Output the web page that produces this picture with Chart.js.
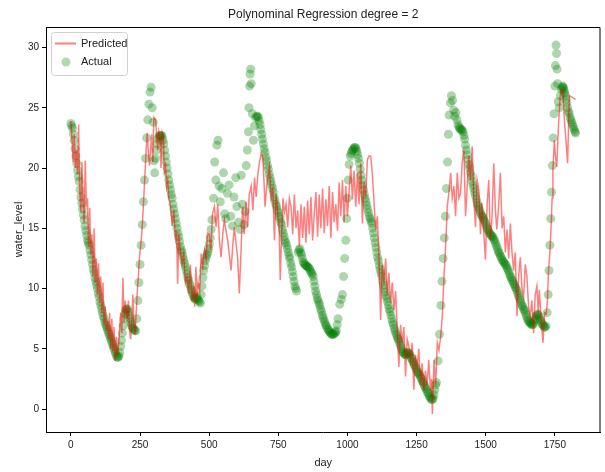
<!DOCTYPE html>
<html>
<head>
<meta charset="utf-8">
<script src="https://cdn.jsdelivr.net/npm/chart.js@4.4.1/dist/chart.umd.min.js"></script>
<style>
  html, body { margin: 0; padding: 0; background: #fff; }
  #wrap { width: 605px; height: 472px; }
</style>
</head>
<body>
<div id="wrap"><canvas id="waterChart" width="605" height="472"></canvas></div>
<script>
var chartTitle = 'Polynominal Regression degree = 2';
var xTicks = [0, 250, 500, 750, 1000, 1250, 1500, 1750];
var yTicks = [0, 5, 10, 15, 20, 25, 30];

// observed water level (green dots)
var actualDays = [0,6,12,18,24,30,36,42,48,54,60,66,72,78,84,90,96,102,108,114,120,126,132,138,144,150,156,162,168,174,180,186,192,198,204,210,216,222,228,234,238,242,246,250,254,258,262,266,270,274,278,282,286,290,294,298,300,303,306,312,318,324,330,336,342,348,354,360,366,372,378,384,390,396,402,408,414,420,426,432,438,444,450,456,462,468,474,480,486,492,498,504,510,516,520,524,528,532,536,540,546,552,556,560,566,572,578,584,590,596,600,606,612,616,620,626,630,634,638,642,644,646,648,650,652,656,660,664,668,672,678,684,690,696,702,708,714,720,726,732,738,744,750,756,762,768,774,780,786,792,798,804,810,816,822,828,834,840,846,852,858,864,870,876,882,888,894,900,906,912,918,924,930,936,942,948,954,960,966,972,978,982,986,990,994,997,1000,1003,1006,1010,1016,1022,1028,1034,1040,1046,1052,1058,1064,1070,1076,1082,1088,1094,1100,1106,1112,1118,1124,1130,1136,1142,1148,1154,1160,1166,1172,1178,1184,1190,1196,1202,1208,1214,1220,1226,1232,1238,1244,1250,1256,1262,1268,1274,1280,1286,1292,1298,1304,1310,1316,1322,1328,1333,1338,1342,1346,1350,1354,1358,1362,1365,1368,1372,1376,1380,1384,1388,1392,1396,1400,1406,1412,1418,1424,1430,1436,1442,1448,1454,1460,1466,1472,1478,1484,1490,1496,1502,1508,1514,1520,1526,1532,1538,1544,1550,1556,1562,1568,1574,1580,1586,1592,1598,1604,1610,1616,1622,1628,1634,1640,1646,1652,1658,1664,1670,1676,1682,1688,1694,1700,1706,1712,1718,1722,1726,1729,1732,1735,1738,1741,1744,1747,1750,1752,1754,1756,1758,1760,1762,1766,1770,1774,1778,1782,1786,1790,1796,1802,1808,1814,1820,1825];
var actualLevel = [23.7,23.3,22.3,21.0,19.8,18.9,17.6,16.6,15.7,14.8,14.0,13.6,12.8,12.0,11.3,10.6,10.0,9.3,8.6,8.0,7.5,7.0,6.6,6.2,5.8,5.4,5.0,4.6,4.3,4.4,5.2,6.3,7.5,8.2,8.3,7.8,7.2,6.8,6.6,6.5,7.5,9.0,10.5,12.0,13.6,15.3,17.2,19.0,20.8,22.5,24.0,25.3,26.3,26.7,25.0,23.8,20.6,19.6,20.8,22.0,22.6,22.7,22.6,22.0,21.0,20.0,19.0,18.2,17.5,16.6,15.8,15.0,14.3,13.5,13.0,12.4,11.8,11.2,10.7,10.2,9.7,9.3,9.1,9.3,9.0,8.8,10.2,11.5,12.3,12.8,13.3,14.2,15.7,17.5,20.5,19.0,21.9,22.3,18.5,17.2,18.3,19.6,16.2,15.8,17.9,18.6,16.0,15.2,17.6,19.2,16.8,15.5,14.9,19.4,17.0,15.3,16.4,20.2,21.5,23.0,25.0,26.8,27.8,28.2,27.0,24.5,22.3,23.5,24.2,24.3,24.2,23.6,22.8,22.0,21.3,20.6,19.9,19.2,18.6,18.0,17.3,16.8,16.3,15.8,15.3,14.6,14.0,13.6,13.0,12.5,11.8,11.0,10.2,9.8,13.0,13.3,12.8,12.2,12.0,11.9,11.8,11.6,11.3,11.0,10.2,9.5,9.0,8.6,8.1,7.6,7.2,6.9,6.6,6.4,6.2,6.2,6.3,6.5,7.5,8.7,9.1,9.5,11.0,12.5,14.0,15.8,17.5,19.0,20.3,21.0,21.4,21.6,21.7,21.4,20.8,19.9,19.0,18.2,17.5,16.9,16.3,15.8,15.4,14.6,13.8,13.0,12.3,11.6,11.0,10.3,9.7,9.2,8.6,8.1,7.5,7.0,6.5,6.1,5.8,5.4,5.0,4.7,4.5,4.6,4.7,4.5,4.2,3.9,3.6,3.3,3.0,2.8,2.5,2.2,1.9,1.6,1.3,1.0,0.8,0.9,1.6,2.2,4.0,6.2,8.6,10.6,12.5,14.2,16.0,18.3,20.5,22.8,24.4,25.4,26.0,25.6,24.8,24.3,24.6,24.0,23.6,23.3,23.2,23.0,22.4,21.5,20.7,20.0,19.3,18.6,18.0,17.4,16.9,16.5,16.1,15.9,15.6,15.2,14.9,14.6,14.4,14.3,14.0,13.6,13.2,12.9,12.6,12.3,12.1,11.9,11.6,11.2,10.9,10.6,10.3,10.0,9.6,9.2,8.8,8.5,8.2,7.8,7.4,7.2,7.1,7.0,7.3,7.7,7.9,7.6,7.3,7.0,6.8,6.9,8.0,9.5,11.5,13.6,15.8,18.0,20.2,22.5,24.5,26.8,28.5,30.2,29.5,28.2,27.0,25.5,25.0,26.0,26.5,26.8,26.6,26.2,25.7,25.0,24.5,24.0,23.6,23.2,22.9];

// more readings on the dense falling stretches
var extraDays = [3,9,15,21,27,33,39,45,51,57,63,69,75,81,87,93,99,105,111,117,123,129,135,141,147,153,159,165,171,177,183,189,195,201,207,213,219,225,231,309,315,321,327,333,339,345,351,357,363,369,375,381,387,393,399,405,411,417,423,429,435,441,447,453,459,465,471,477,483,489,495,501,507,675,681,687,693,699,705,711,717,723,729,735,741,747,753,759,765,771,777,783,789,795,801,807,813,825,831,837,843,849,855,861,867,873,879,885,891,897,903,909,915,921,927,933,939,945,951,957,963,1013,1019,1025,1031,1037,1043,1049,1055,1061,1067,1073,1079,1085,1091,1097,1103,1109,1115,1121,1127,1133,1139,1145,1151,1157,1163,1169,1175,1181,1187,1193,1199,1205,1211,1217,1223,1229,1235,1241,1247,1253,1259,1265,1271,1277,1283,1289,1295,1301,1307,1313,1319,1403,1409,1415,1421,1427,1433,1439,1445,1451,1457,1463,1469,1475,1481,1487,1493,1499,1505,1511,1517,1523,1529,1535,1541,1547,1553,1559,1565,1571,1577,1583,1589,1595,1601,1607,1613,1619,1625,1631,1637,1643,1649,1655,1661,1667,1673,1679,1685,1691,1697,1703,1709,1715,1775,1780,1784,1788,1793,1799,1805,1811,1817,1823];
var extraLevel = [23.5,22.8,21.6,20.4,19.3,18.2,17.1,16.1,15.2,14.4,13.8,13.2,12.4,11.6,10.9,10.3,9.6,8.9,8.3,7.7,7.2,6.8,6.4,6.0,5.6,5.2,4.8,4.4,4.3,4.7,5.7,6.9,7.9,8.3,8.1,7.5,7.0,6.7,6.5,21.5,22.4,22.7,22.7,22.3,21.5,20.5,19.5,18.6,17.8,17.0,16.2,15.4,14.6,13.9,13.2,12.7,12.1,11.5,10.9,10.4,9.9,9.5,9.2,9.2,9.1,8.9,9.5,10.9,11.9,12.6,13.0,13.7,14.9,24.3,23.9,23.2,22.4,21.6,20.9,20.2,19.5,18.9,18.3,17.6,17.0,16.5,16.0,15.5,14.9,14.3,13.8,13.3,12.7,12.1,11.4,10.6,10.0,13.2,13.0,12.5,12.1,11.9,11.8,11.7,11.4,11.2,10.6,9.8,9.2,8.8,8.3,7.8,7.4,7.0,6.7,6.5,6.3,6.2,6.2,6.4,7.0,21.2,21.5,21.7,21.6,21.1,20.4,19.4,18.6,17.8,17.2,16.6,16.0,15.6,15.0,14.2,13.4,12.6,11.9,11.3,10.6,10.0,9.4,8.9,8.3,7.8,7.2,6.7,6.3,5.9,5.6,5.2,4.8,4.6,4.5,4.7,4.6,4.3,4.0,3.7,3.4,3.1,2.9,2.6,2.3,2.0,1.7,1.4,1.1,0.9,0.8,1.2,2.0,23.4,23.2,23.1,22.7,21.9,21.1,20.3,19.6,18.9,18.3,17.7,17.1,16.7,16.3,16.0,15.7,15.4,15.0,14.7,14.5,14.3,14.1,13.8,13.4,13.0,12.7,12.4,12.2,12.0,11.7,11.4,11.0,10.7,10.4,10.1,9.8,9.4,9.0,8.6,8.3,8.0,7.6,7.3,7.1,7.0,7.1,7.5,7.8,7.8,7.4,7.1,6.9,6.8,26.7,26.7,26.4,26.0,25.4,24.7,24.2,23.8,23.4,23.0];

// model output (red line)
var predDays = [0,5,8,12,16,20,24,28,32,36,40,44,48,52,56,60,64,68,72,76,80,84,88,92,96,100,104,108,112,116,120,124,128,132,136,140,144,148,152,156,160,164,168,172,176,180,184,188,192,196,200,204,208,212,216,220,224,228,232,236,240,244,248,252,256,260,264,268,272,276,280,284,288,292,296,300,306,310,314,318,322,326,330,334,338,342,346,350,354,360,366,372,378,382,386,390,396,402,408,414,420,426,432,438,444,448,452,456,460,466,471,477,483,489,494,500,506,512,519,525,531,537,543,549,555,561,567,573,579,585,591,597,603,609,615,621,627,633,639,645,652,658,664,670,676,682,688,694,698,702,708,714,718,724,730,736,742,748,753,757,762,767,772,778,784,790,796,802,808,814,820,826,832,838,844,850,856,862,868,874,880,886,892,898,904,910,916,922,928,934,940,946,952,958,964,970,976,982,988,994,1000,1006,1012,1018,1024,1030,1036,1042,1048,1054,1060,1066,1072,1078,1084,1090,1096,1102,1108,1114,1120,1126,1132,1138,1144,1150,1156,1162,1168,1174,1180,1186,1192,1198,1204,1210,1216,1222,1228,1234,1240,1246,1252,1258,1264,1270,1276,1282,1288,1294,1300,1304,1307,1313,1319,1325,1331,1337,1343,1349,1355,1361,1367,1373,1379,1385,1391,1397,1403,1409,1415,1421,1427,1433,1439,1445,1451,1457,1463,1469,1475,1481,1486,1492,1499,1505,1511,1517,1523,1529,1535,1540,1547,1553,1559,1565,1571,1577,1583,1589,1595,1601,1607,1613,1619,1625,1631,1637,1643,1649,1655,1661,1667,1673,1679,1685,1690,1694,1700,1707,1713,1719,1723,1727,1732,1736,1740,1743,1748,1752,1757,1763,1769,1774,1779,1783,1787,1791,1796,1800,1803,1810,1817,1825];
var predLevel = [23.9,22.0,20.5,22.8,20.0,21.5,19.5,23.6,18.0,16.4,20.5,17.0,15.5,20.6,16.8,17.5,13.5,16.7,12.8,14.5,11.0,15.0,10.5,12.5,9.5,12.1,8.8,11.0,8.0,10.5,7.0,8.5,6.5,7.3,5.8,8.0,5.0,7.5,4.8,6.8,4.0,6.0,4.5,5.2,6.5,8.0,6.3,10.9,7.2,9.0,8.3,7.5,9.0,6.5,5.8,7.2,9.5,7.0,6.2,8.0,9.8,11.0,12.6,13.5,14.5,16.0,17.8,19.5,21.5,22.9,21.3,20.2,21.5,22.8,20.5,24.2,24.0,22.8,21.5,23.0,22.5,20.0,23.0,22.8,19.5,20.5,18.5,19.0,17.5,17.0,15.2,16.5,14.2,14.8,10.4,14.5,13.0,12.0,12.8,10.5,11.0,9.6,12.0,9.0,10.2,8.5,11.8,9.2,10.5,9.8,12.9,11.8,13.2,12.5,14.6,14.5,13.2,16.2,16.8,15.1,17.0,14.0,12.6,14.5,15.7,14.8,14.0,12.8,11.5,13.5,15.1,13.8,12.5,9.6,13.0,16.8,14.5,17.2,15.1,17.8,18.5,16.5,19.2,17.6,19.5,20.5,21.2,20.9,19.0,16.8,18.5,19.5,20.1,17.5,18.2,14.0,17.8,16.3,15.0,10.7,14.5,17.5,16.3,17.0,15.1,17.5,16.8,14.5,17.8,15.0,16.5,13.5,17.0,14.2,16.8,13.8,17.3,14.5,17.6,14.0,16.2,18.0,14.3,17.8,15.0,18.3,14.6,17.4,15.2,18.5,14.2,18.0,15.5,17.0,14.8,18.8,16.0,19.0,15.5,18.5,16.0,18.0,20.2,17.4,19.8,16.8,19.6,17.0,20.4,15.4,18.8,17.6,20.7,21.0,21.0,19.5,17.2,14.9,16.0,12.6,7.4,12.0,10.4,12.5,9.5,11.3,8.8,10.5,8.2,9.8,6.5,3.5,7.0,5.5,6.8,2.7,5.8,5.2,4.0,5.5,1.6,4.5,3.5,5.0,2.0,3.8,1.5,3.2,2.0,4.1,1.5,2.5,-0.4,4.1,2.0,5.5,4.9,6.0,7.7,11.0,13.5,16.8,18.0,19.6,17.5,18.5,16.0,19.6,17.5,17.9,20.5,21.5,16.0,18.5,21.0,19.0,21.8,17.5,15.1,19.0,18.2,14.5,17.1,15.0,12.4,17.0,19.0,14.0,16.0,20.4,16.5,14.9,17.0,19.6,15.0,16.0,13.0,14.9,12.5,15.4,13.0,11.5,13.0,7.7,11.0,12.6,10.0,9.3,12.0,11.0,8.5,7.7,9.0,6.3,9.5,10.2,8.0,9.9,7.5,5.5,8.0,7.9,9.0,11.5,13.0,14.9,17.5,19.9,22.3,21.0,20.1,23.5,25.9,26.5,26.5,24.5,23.2,22.0,20.4,24.0,26.0,25.9,25.8,25.7];

var predicted = predDays.map(function(d, i) { return { x: d, y: predLevel[i] }; });
var actual = actualDays.map(function(d, i) { return { x: d, y: actualLevel[i] }; })
    .concat(extraDays.map(function(d, i) { return { x: d, y: extraLevel[i] }; }));

var fontFam = '"Liberation Sans", Arial, sans-serif';

// matplotlib style: title over the axes, top/right spines, legend box inside
var framePlugin = {
    id: 'frame',
    afterDraw: function(chart) {
        var c = chart.ctx, a = chart.chartArea;
        c.save();
        c.strokeStyle = '#000';
        c.lineWidth = 1;
        c.beginPath();
        c.moveTo(a.left, a.top + 0.5);
        c.lineTo(a.right - 0.5, a.top + 0.5);
        c.lineTo(a.right - 0.5, a.bottom);
        c.stroke();

        c.fillStyle = '#222';
        c.font = '12px ' + fontFam;
        c.textAlign = 'center';
        c.textBaseline = 'middle';
        c.fillText(chartTitle, (a.left + a.right) / 2, 15);

        // legend
        var lx = 51, ly = 32, lw = 76, lh = 43;
        c.fillStyle = 'rgba(255,255,255,0.85)';
        c.strokeStyle = '#d0d0d0';
        c.beginPath();
        c.roundRect(lx + 0.5, ly + 0.5, lw, lh, 3);
        c.fill();
        c.stroke();
        c.strokeStyle = 'rgba(255,0,0,0.5)';
        c.lineWidth = 2;
        c.beginPath();
        c.moveTo(55, 43.5);
        c.lineTo(76, 43.5);
        c.stroke();
        c.fillStyle = 'rgba(0,128,0,0.3)';
        c.beginPath();
        c.arc(66, 62, 4.5, 0, Math.PI * 2);
        c.fill();
        c.fillStyle = '#222';
        c.font = '11px ' + fontFam;
        c.textAlign = 'left';
        c.fillText('Predicted', 81, 44);
        c.fillText('Actual', 81, 62);
        c.restore();
    }
};

var ctx = document.getElementById('waterChart').getContext('2d');
var config = {
    type: 'scatter',
    data: {
        datasets: [{
            label: 'Predicted',
            data: predicted,
            showLine: true,
            borderColor: 'rgba(255,0,0,0.5)',
            borderWidth: 1.5,
            pointRadius: 0,
            tension: 0
        }, {
            label: 'Actual',
            data: actual,
            pointRadius: 4.5,
            pointBackgroundColor: 'rgba(0,128,0,0.32)',
            pointBorderWidth: 0,
            borderColor: 'rgba(0,128,0,0.32)'
        }]
    },
    options: {
        responsive: false,
        animation: false,
        layout: { padding: { left: 0, right: 3, top: 27, bottom: 0 } },
        plugins: {
            legend: { display: false },
            tooltip: { enabled: false },
            title: { display: false }
        },
        scales: {
            x: {
                type: 'linear',
                min: -90,
                max: 1915,
                afterBuildTicks: function(s) { s.ticks = xTicks.map(function(v) { return { value: v }; }); },
                afterFit: function(s) { s.height = 40; },
                grid: { display: true, drawOnChartArea: false, drawTicks: true, tickLength: 4, color: '#000' },
                border: { display: true, color: '#000' },
                ticks: {
                    color: '#222', padding: 3, maxRotation: 0,
                    font: { family: fontFam, size: 10 },
                    callback: function(v) { return String(v); }
                },
                title: { display: true, text: 'day', color: '#222', padding: { top: 0, bottom: 2 }, font: { family: fontFam, size: 11 } }
            },
            y: {
                type: 'linear',
                min: -1.9,
                max: 31.7,
                afterBuildTicks: function(s) { s.ticks = yTicks.map(function(v) { return { value: v }; }); },
                afterFit: function(s) { s.width = 46; },
                grid: { display: true, drawOnChartArea: false, drawTicks: true, tickLength: 4, color: '#000' },
                border: { display: true, color: '#000' },
                ticks: { color: '#222', padding: 3, font: { family: fontFam, size: 10 } },
                title: { display: true, text: 'water_level', color: '#222', padding: { top: 12, bottom: 0 }, font: { family: fontFam, size: 11 } }
            }
        }
    },
    plugins: [framePlugin]
};

var chart = new Chart(ctx, config);
</script>
</body>
</html>
